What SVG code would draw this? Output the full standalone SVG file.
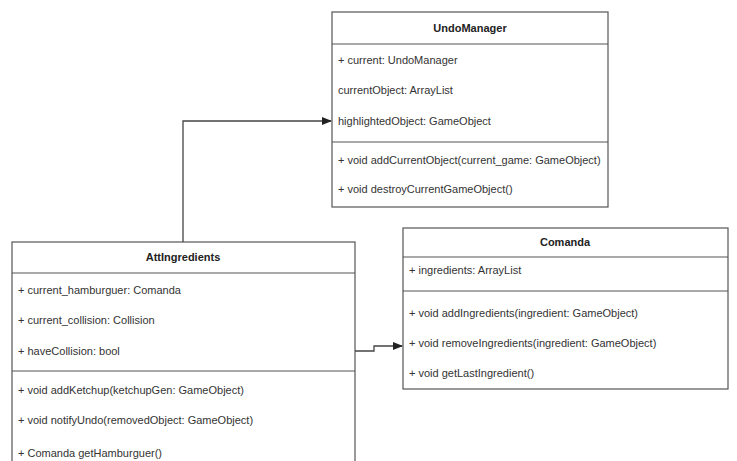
<svg xmlns="http://www.w3.org/2000/svg" width="737" height="461" viewBox="0 0 737 461">
<style>
.box{fill:#ffffff;stroke:#555555;stroke-width:1.2}
.sep{stroke:#555555;stroke-width:1.2}
.t{font-family:"Liberation Sans",Arial,sans-serif;font-size:11px;fill:#333333}
.h{font-family:"Liberation Sans",Arial,sans-serif;font-size:11px;font-weight:bold;fill:#222222;text-anchor:middle}
.c{fill:none;stroke:#444444;stroke-width:1.3}
</style>
<defs>
<marker id="arr" markerWidth="10" markerHeight="8" refX="9" refY="4" orient="auto" markerUnits="userSpaceOnUse">
<path d="M0,0 L10,4 L0,8 Z" fill="#222222"/>
</marker>
</defs>
<rect width="737" height="461" fill="#ffffff"/>
<g id="UndoManager">
<rect class="box" x="332" y="12" width="276" height="195"/>
<line class="sep" x1="332" y1="44" x2="608" y2="44"/>
<line class="sep" x1="332" y1="142" x2="608" y2="142"/>
<text class="h" x="470" y="32">UndoManager</text>
<text class="t" x="338" y="64">+ current: UndoManager</text>
<text class="t" x="338" y="94">currentObject: ArrayList</text>
<text class="t" x="338" y="125">highlightedObject: GameObject</text>
<text class="t" x="338" y="164">+ void addCurrentObject(current_game: GameObject)</text>
<text class="t" x="338" y="193">+ void destroyCurrentGameObject()</text>
</g>
<g id="AttIngredients">
<rect class="box" x="12" y="242" width="343" height="240"/>
<line class="sep" x1="12" y1="273" x2="355" y2="273"/>
<line class="sep" x1="12" y1="371" x2="355" y2="371"/>
<text class="h" x="183" y="261">AttIngredients</text>
<text class="t" x="18" y="294">+ current_hamburguer: Comanda</text>
<text class="t" x="18" y="324">+ current_collision: Collision</text>
<text class="t" x="18" y="355">+ haveCollision: bool</text>
<text class="t" x="18" y="394">+ void addKetchup(ketchupGen: GameObject)</text>
<text class="t" x="18" y="424">+ void notifyUndo(removedObject: GameObject)</text>
<text class="t" x="18" y="457">+ Comanda getHamburguer()</text>
</g>
<g id="Comanda">
<rect class="box" x="403" y="228" width="325" height="161"/>
<line class="sep" x1="403" y1="257" x2="728" y2="257"/>
<line class="sep" x1="403" y1="291" x2="728" y2="291"/>
<text class="h" x="565" y="246">Comanda</text>
<text class="t" x="409" y="274">+ ingredients: ArrayList</text>
<text class="t" x="409" y="317">+ void addIngredients(ingredient: GameObject)</text>
<text class="t" x="409" y="347">+ void removeIngredients(ingredient: GameObject)</text>
<text class="t" x="409" y="377">+ void getLastIngredient()</text>
</g>
<g id="connectors">
<path class="c" d="M355,351 L374,351 L374,346 L402,346" marker-end="url(#arr)"/>
<path class="c" d="M183,242 L183,121 L331,121" marker-end="url(#arr)"/>
</g>
</svg>
